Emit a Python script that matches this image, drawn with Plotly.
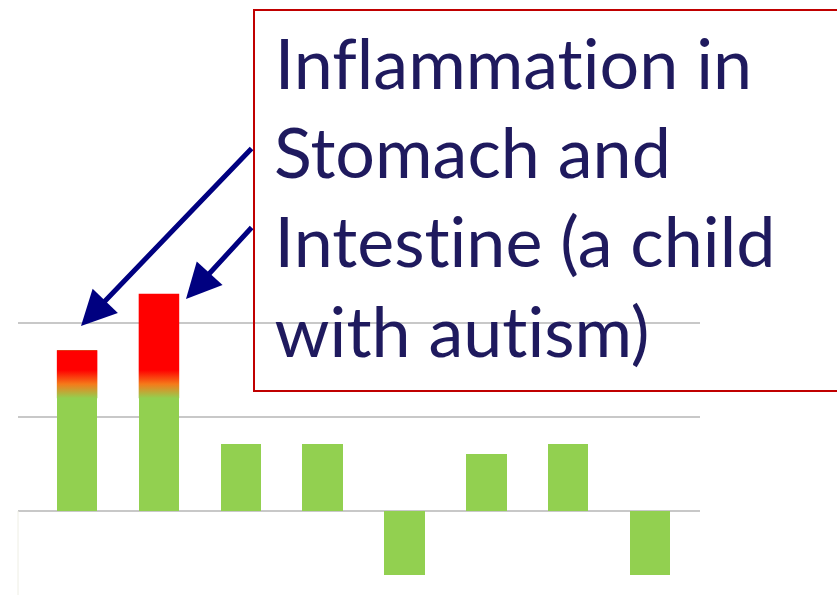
import plotly.graph_objects as go

# ---- data ----
positions = [0, 1, 2, 3, 4, 5, 6, 7]
values = [1.71, 2.31, 0.71, 0.71, -0.68, 0.61, 0.71, -0.68]
inflamed = [True, True, False, False, False, False, False, False]
grid_levels = [0, 1, 2]
label_lines = ["Inflammation in", "Stomach and", "Intestine (a child", "with autism)"]

# ---- style ----
W, H = 837, 595
L, R = 18, 137
GREEN = "#92D050"
RED = "#FF0000"
BAR_W = 0.495
GRAD_FROM, GRAD_TO = 1.2, 1.5
TEXT_COLOR = "#1F1A5E"
ARROW_COLOR = "#000080"
FONT = "Lato"
FS = 70

pw = W - L - R


def px_x(p):
    return (p - L) / pw


def px_y(p):
    return 1 - p / H


fig = go.Figure()
fig.add_trace(go.Bar(x=positions, y=values, width=BAR_W,
                     marker=dict(color=GREEN, line=dict(width=0)),
                     hoverinfo="skip", showlegend=False))

for c, v, inf in zip(positions, values, inflamed):
    if not inf:
        continue
    x0, x1 = c - BAR_W / 2, c + BAR_W / 2
    fig.add_trace(go.Scatter(
        x=[x0, x1, x1, x0, x0], y=[GRAD_FROM, GRAD_FROM, v, v, GRAD_FROM],
        mode="lines", fill="toself", line=dict(width=0, color="rgba(0,0,0,0)"),
        fillgradient=dict(type="vertical", start=GRAD_FROM, stop=GRAD_TO,
                          colorscale=[[0, GREEN], [0.5, "#F57A1A"], [1, RED]]),
        hoverinfo="skip", showlegend=False))

shapes = [
    dict(type="line", xref="paper", yref="paper", x0=0, x1=0, y0=0, y1=px_y(511),
         line=dict(color="#EEEEE4", width=1)),
    dict(type="rect", xref="paper", yref="paper", x0=px_x(254), x1=px_x(900),
         y0=px_y(391), y1=px_y(10), line=dict(color="#C00000", width=2),
         fillcolor="rgba(0,0,0,0)", layer="above"),
]

annotations = [
    dict(xref="paper", yref="paper", x=px_x(81), y=px_y(326), ax=172, ay=-179,
         text="", showarrow=True, arrowhead=2, arrowsize=1.4, arrowwidth=5,
         arrowcolor=ARROW_COLOR, standoff=0),
    dict(xref="paper", yref="paper", x=px_x(186), y=px_y(299), ax=67, ay=-73,
         text="", showarrow=True, arrowhead=2, arrowsize=1.4, arrowwidth=5,
         arrowcolor=ARROW_COLOR, standoff=0),
]
baselines = [89, 178, 267, 357]
for line, b in zip(label_lines, baselines):
    annotations.append(dict(xref="paper", yref="paper", x=px_x(272),
                            y=px_y(b - 0.387 * FS), xanchor="left", yanchor="middle",
                            text=line, showarrow=False,
                            font=dict(family=FONT, size=FS, color=TEXT_COLOR)))

fig.update_layout(
    width=W, height=H, autosize=False,
    margin=dict(l=L, r=R, t=0, b=0, pad=0),
    paper_bgcolor="white", plot_bgcolor="white",
    xaxis=dict(range=[-0.722, 7.61], visible=False, fixedrange=True),
    yaxis=dict(range=[-84 / 94, 511 / 94], tickvals=grid_levels, showticklabels=False,
               showgrid=True, gridcolor="#C8C8C8", gridwidth=2, zeroline=False,
               showline=False, fixedrange=True),
    shapes=shapes, annotations=annotations, bargap=0,
)

post = ("document.body.style.margin='0';"
        "var s=document.createElement('style');"
        "s.textContent='text{font-variant-ligatures:none !important;}';"
        "document.head.appendChild(s);")
fig.write_html("out.html", post_script=post, config={"displayModeBar": False})
